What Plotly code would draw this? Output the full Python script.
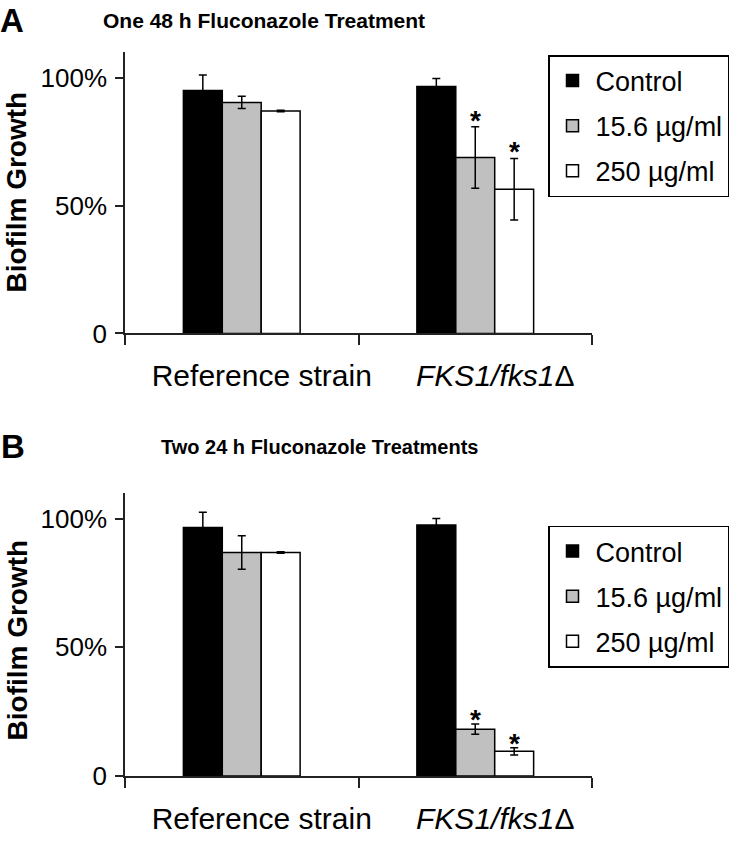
import plotly.graph_objects as go

# ---- data ----
categories = ["Reference strain", "<i>FKS1/fks1</i>Δ"]
series_names = ["Control", "15.6 µg/ml", "250 µg/ml"]
series_colors = ["#000000", "#c0c0c0", "#ffffff"]

# Panel A: One 48 h Fluconazole Treatment
a_values = [[0.95, 0.965], [0.903, 0.688], [0.870, 0.564]]
a_errors = [[0.06, 0.032], [0.024, 0.12], [0.003, 0.12]]
a_sig = [[False, False], [False, True], [False, True]]

# Panel B: Two 24 h Fluconazole Treatments
b_values = [[0.965, 0.975], [0.868, 0.182], [0.868, 0.096]]
b_errors = [[0.06, 0.025], [0.065, 0.02], [0.003, 0.014]]
b_sig = [[False, False], [False, True], [False, True]]

y_tickvals = [0, 0.5, 1.0]
y_ticktext = ["0", "50%", "100%"]

titles = ["One 48 h Fluconazole Treatment", "Two 24 h Fluconazole Treatments"]
panel_letters = ["A", "B"]
y_title = "Biofilm Growth"

W, H = 750, 848
FONT = "Arial, Liberation Sans, sans-serif"


def px(xp):
    return xp / W


def py(yp):
    return 1 - yp / H


fig = go.Figure()

panels = [
    dict(key="A", values=a_values, errors=a_errors, sig=a_sig, xa="x", ya="y", legend="legend", ys=-11),
    dict(key="B", values=b_values, errors=b_errors, sig=b_sig, xa="x2", ya="y2", legend="legend2", ys=-13),
]

bar_px = 39  # approx pixel width of one bar (for asterisk x offset)
for p in panels:
    for i, name in enumerate(series_names):
        fig.add_trace(go.Bar(
            x=categories, y=p["values"][i], name=name,
            legendgroup=p["key"] + str(i),
            marker=dict(color=series_colors[i], line=dict(color="#000000", width=1.5)),
            error_y=dict(type="data", array=p["errors"][i], visible=True,
                         color="#000000", thickness=1.5, width=4),
            xaxis=p["xa"], yaxis=p["ya"], legend=p["legend"],
        ))
        for j, cat in enumerate(categories):
            if p["sig"][i][j]:
                fig.add_annotation(
                    x=cat, y=p["values"][i][j] + p["errors"][i][j],
                    xref=p["xa"], yref=p["ya"], text="<b>*</b>", showarrow=False,
                    xshift=(i - 1) * bar_px, yanchor="bottom", yshift=p["ys"],
                    font=dict(family=FONT, size=28, color="#000000"),
                )

axis_common_x = dict(type="category", showline=True, linecolor="#222222", linewidth=1.5,
                     ticks="outside", tickson="boundaries", ticklen=10, tickwidth=1.5,
                     tickcolor="#222222", showgrid=False, zeroline=False,
                     tickfont=dict(family=FONT, size=30, color="#000000"),
                     ticklabelstandoff=15, ticklabelshift=20)
axis_common_y = dict(range=[0, 1.1], showline=True, linecolor="#222222", linewidth=1.5,
                     ticks="outside", ticklen=8, tickwidth=1.5, tickcolor="#222222",
                     showgrid=False, zeroline=False, tickvals=y_tickvals, ticktext=y_ticktext,
                     tickfont=dict(family=FONT, size=26, color="#000000"),
                     ticklabelstandoff=3)

legend_common = dict(xanchor="left", yanchor="top", bordercolor="#000000", borderwidth=1.5,
                     bgcolor="white", traceorder="grouped", tracegroupgap=7, itemwidth=36,
                     font=dict(family=FONT, size=27, color="#000000"))

xdom = [px(125), px(592)]
fig.update_layout(
    width=W, height=H, margin=dict(l=0, r=0, t=0, b=0),
    paper_bgcolor="white", plot_bgcolor="white",
    barmode="group", bargap=0.5, bargroupgap=0,
    showlegend=True,
    xaxis=dict(domain=xdom, anchor="y", **axis_common_x),
    yaxis=dict(domain=[py(339.5), py(53)], anchor="x", **axis_common_y),
    xaxis2=dict(domain=xdom, anchor="y2", **axis_common_x),
    yaxis2=dict(domain=[py(790), py(501.7)], anchor="x2", **axis_common_y),
    legend=dict(x=px(548), y=py(56), **legend_common),
    legend2=dict(x=px(548), y=py(535), **legend_common),
)

# titles, panel letters, y-axis titles
title_pos = [(264, 21), (319, 455)]
title_sizes = [21, 20]
letter_pos = [(12, 21), (13, 455)]
ytitle_pos = [(17, 196), (17, 652)]
for k in range(2):
    fig.add_annotation(x=px(title_pos[k][0]), y=py(title_pos[k][1]), xref="paper", yref="paper",
                       text="<b>" + titles[k] + "</b>", showarrow=False,
                       xanchor="center", yanchor="middle",
                       font=dict(family=FONT, size=title_sizes[k], color="#000000"))
    fig.add_annotation(x=px(letter_pos[k][0]), y=py(letter_pos[k][1]), xref="paper", yref="paper",
                       text="<b>" + panel_letters[k] + "</b>", showarrow=False,
                       xanchor="center", yanchor="middle",
                       font=dict(family=FONT, size=33, color="#000000"))
    fig.add_annotation(x=px(ytitle_pos[k][0]), y=py(ytitle_pos[k][1]), xref="paper", yref="paper",
                       text="<b>" + y_title + "</b>", showarrow=False, textangle=-90,
                       xanchor="center", yanchor="middle",
                       font=dict(family=FONT, size=28, color="#000000"))

fig.write_html("out.html", config={"displayModeBar": False},
               post_script="document.body.style.margin='0';document.body.style.overflow='hidden';")
